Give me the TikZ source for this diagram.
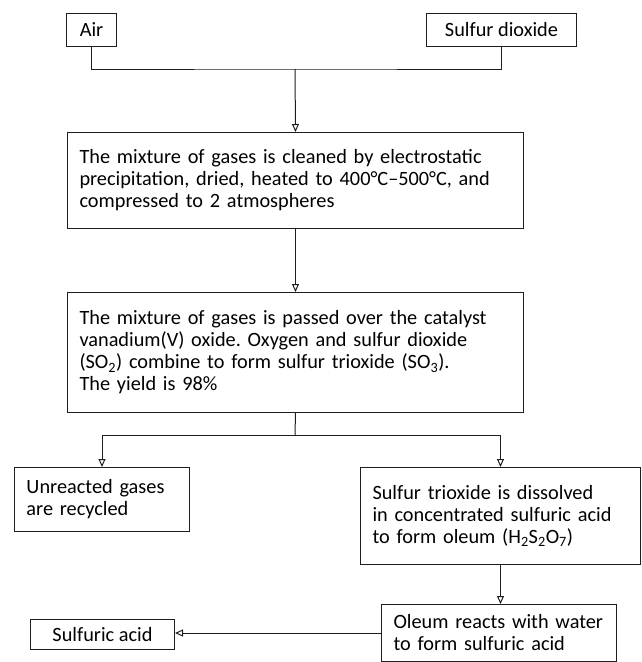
\documentclass[tikz,border=0pt]{standalone}
\usepackage{fontspec}
\setmainfont{Carlito}
\frenchspacing
\usetikzlibrary{arrows.meta, positioning}
\definecolor{inkdark}{RGB}{30,30,30}
\tikzset{
  stepbox/.style={rectangle, draw=inkdark, line width=1pt,
    align=left, inner xsep=12pt, inner ysep=0pt, anchor=north west,
    font=\fontsize{20.3}{22}\selectfont},
  namebox/.style={stepbox, align=center, inner xsep=0pt},
  arrow/.style={-{Triangle[open, length=8pt, width=7pt]}, line width=1pt, color=inkdark},
  line/.style={line width=1pt, color=inkdark}
}
\begin{document}
\begin{tikzpicture}[x=1pt, y=-1pt]
  \useasboundingbox (0,0) rectangle (641,662);
  % inputs
  \node[namebox, minimum width=50pt, minimum height=33pt] (air) at (66,13) {Air};
  \node[namebox, minimum width=150pt, minimum height=33pt] (so2) at (426,13) {Sulfur dioxide};
  % main column
  \node[stepbox, text width=432pt, minimum height=96pt] (clean) at (67,132)
    {The mixture of gases is cleaned by electrostatic\\
     precipitation, dried, heated to 400°C--500°C, and\\
     compressed to 2 atmospheres\\[4pt]};
  \node[stepbox, text width=432pt, minimum height=120pt] (react) at (67,292)
    {The mixture of gases is passed over the catalyst\\
     vanadium(V) oxide. Oxygen and sulfur dioxide\\
     (SO\textsubscript{2}) combine to form sulfur trioxide (SO\textsubscript{3}).\\
     The yield is 98\%};
  \node[stepbox, text width=151pt, minimum height=64pt] (recycle) at (14,467)
    {Unreacted gases\\are recycled};
  \node[stepbox, text width=256pt, minimum height=97pt] (trioxide) at (360,467)
    {Sulfur trioxide is dissolved\\
     in concentrated sulfuric acid\\
     to form oleum (H\textsubscript{2}S\textsubscript{2}O\textsubscript{7})};
  \node[stepbox, text width=211pt, minimum height=57pt] (oleum) at (381,604)
    {Oleum reacts with water\\to form sulfuric acid};
  \node[namebox, minimum width=144pt, minimum height=30pt] (acid) at (30,619) {Sulfuric acid};

  \coordinate (join) at (295,69);
  \coordinate (split) at (295,435);
  \draw[line]  (air.south) |- (join) -| (so2.south);
  \draw[arrow] (join) -- (clean.north);
  \draw[arrow] (clean.south) -- (react.north);
  \draw[line]  (react.south) -- (split);
  \draw[arrow] (split) -| (recycle.north);
  \draw[arrow] (split) -| (trioxide.north);
  \draw[arrow] (trioxide.south) -- (trioxide.south |- oleum.north);
  \draw[arrow] (oleum.west) -- (oleum.west -| acid.east);
\end{tikzpicture}
\end{document}
